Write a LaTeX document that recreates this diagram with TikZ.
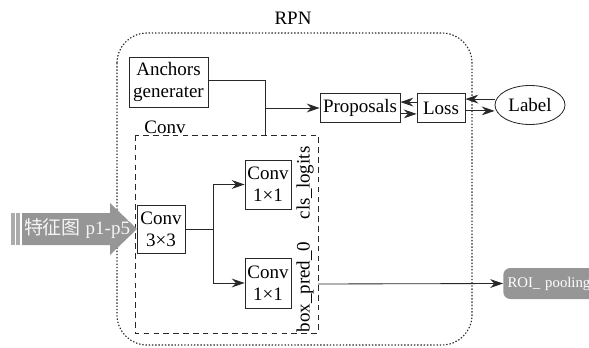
\documentclass[tikz,border=0pt]{standalone}
\usepackage{fontspec}
\setmainfont{Liberation Serif}
\newfontfamily\cjk{Noto Sans CJK SC}
\usepackage{tikz}
\usetikzlibrary{calc,shapes.geometric,arrows.meta,positioning}
\definecolor{linegray}{RGB}{40,40,40}
\definecolor{boxgray}{RGB}{150,150,150}
\tikzset{
    block/.style={draw=linegray, line width=0.6pt, align=center, inner sep=1pt},
    arrow/.style={draw=linegray, line width=0.6pt, -{Stealth[length=3.2mm,width=2.2mm]}},
    link/.style={draw=linegray, line width=0.6pt},
    region/.style={draw=linegray, line width=0.6pt, dash pattern=on 4pt off 3pt},
    outer/.style={draw=linegray, line width=0.8pt, dash pattern=on 1pt off 1.3pt, rounded corners=0.75cm}
}

\begin{document}
\begin{tikzpicture}[x=0.025cm, y=-0.025cm, font=\fontsize{13.5}{15.5}\selectfont]
    \useasboundingbox (0,0) rectangle (589,347);
    \clip (0,0) rectangle (589,347);

    % frames
    \draw[outer] (117,33) rectangle (472,345);
    \node (rpn) at (293,18) {RPN};
    \draw[region] (135,135) rectangle (318,333);
    \node (convlbl) at (165,127) {Conv};

    % Nodes
    \node[block, minimum width=79*0.025cm, minimum height=50*0.025cm] (anchors) at (168.5,82) {Anchors\\generater};
    \node[block, minimum width=80*0.025cm, minimum height=29*0.025cm] (proposals) at (360,108) {Proposals};
    \node[block, minimum width=48*0.025cm, minimum height=29*0.025cm] (loss) at (441,108) {Loss};
    \node[ellipse, draw=linegray, line width=0.6pt, minimum width=70*0.025cm, minimum height=39*0.025cm, inner sep=0pt] (label) at (530,105) {Label};
    \node[block, minimum width=48*0.025cm, minimum height=48*0.025cm] (conv3) at (161,229) {Conv\\3×3};
    \node[block, minimum width=46*0.025cm, minimum height=49*0.025cm] (cls) at (268,184.5) {Conv\\1×1};
    \node[block, minimum width=46*0.025cm, minimum height=50*0.025cm] (box) at (268,283) {Conv\\1×1};
    \node[rotate=90, inner sep=0pt] (clstxt) at (305,183) {cls\_logits};
    \node[rotate=90, inner sep=0pt] (boxtxt) at (305,287) {box\_pred\_0};
    \node[fill=boxgray, text=white, rounded corners=5pt, minimum height=31*0.025cm, anchor=west, inner xsep=3pt,
          text width=92*0.025cm, align=left, font=\fontsize{10.5}{12}\selectfont] (roi) at (503,283.5) {ROI\_ pooling};

    % input arrow
    \fill[boxgray!80] (11,213) rectangle (15,245);
    \fill[boxgray!80] (16,213) rectangle (20,245);
    \fill[boxgray] (22,213) -- (110,213) -- (110,203) -- (137,229) -- (110,255) -- (110,245) -- (22,245) -- cycle;
    \node[text=white!92!gray, inner sep=0pt] (feat) at (77,229) {{\cjk 特征图} p1-p5};

    \coordinate (clsout) at (265,135);
    \coordinate (split) at (213,229);
    \coordinate (boxout) at (318,284);

    % edges
    \draw[link] (anchors.east |- 0,80) -| (clsout);
    \draw[arrow] (clsout |- proposals.west) -- (proposals.west);
    \draw[arrow] ([yshift=4.2pt]loss.west) -- ([yshift=4.2pt]proposals.east);
    \draw[arrow] ([yshift=-4.2pt]proposals.east) -- ([yshift=-4.2pt]loss.west);
    \coordinate (lblin) at ([yshift=4.2pt]label.west);
    \coordinate (lblout) at ([yshift=-4.2pt]label.west);
    \draw[arrow] (lblin) -- (lblin -| loss.east);
    \draw[arrow] (lblout -| loss.east) -- (lblout);
    \draw[link] (conv3.east) -- (split);
    \draw[arrow] (split) |- (cls.west);
    \draw[arrow] (split) |- (box.west);
    \draw[arrow] (boxout) -- (roi.west);
\end{tikzpicture}
\end{document}
